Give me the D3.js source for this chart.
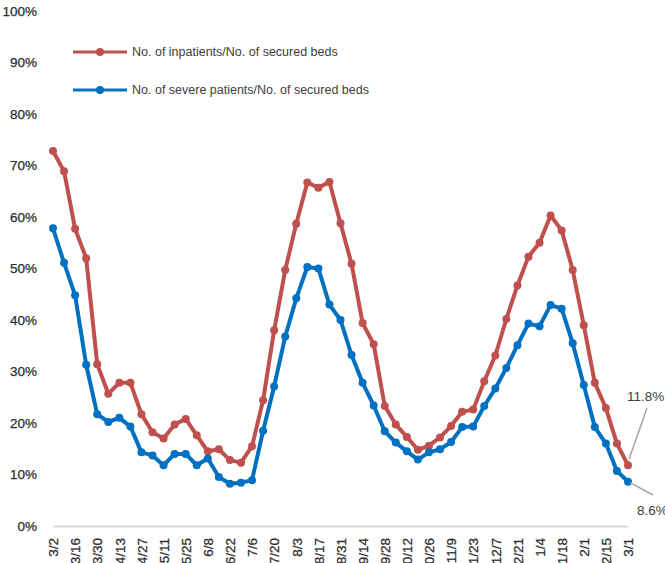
<!DOCTYPE html>
<html><head><meta charset="utf-8">
<script src="https://cdn.jsdelivr.net/npm/d3@7"></script>
<style>
html,body{margin:0;padding:0;background:#fff;overflow:hidden}
text{font-family:"Liberation Sans",Arial,sans-serif}
</style></head>
<body>
<svg id="chart" width="665" height="563"></svg>
<script>
const weeks = ["3/2","3/9","3/16","3/23","3/30","4/6","4/13","4/20","4/27","5/4","5/11","5/18","5/25","6/1","6/8","6/15","6/22","6/29","7/6","7/13","7/20","7/27","8/3","8/10","8/17","8/24","8/31","9/7","9/14","9/21","9/28","10/5","10/12","10/19","10/26","11/2","11/9","11/16","11/23","11/30","12/7","12/14","12/21","12/28","1/4","1/11","1/18","1/25","2/1","2/8","2/15","2/22","3/1"];
const tickLabels = ["3/2","3/16","3/30","4/13","4/27","5/11","5/25","6/8","6/22","7/6","7/20","8/3","8/17","8/31","9/14","9/28","10/12","10/26","11/9","11/23","12/7","12/21","1/4","1/18","2/1","2/15","3/1"];
const inpatients = [72.8,68.9,57.7,52.0,31.4,25.7,27.8,27.8,21.7,18.2,17.0,19.7,20.8,17.6,14.5,14.9,12.8,12.3,15.5,24.4,38.0,49.7,58.7,66.7,65.7,66.8,58.8,50.9,39.4,35.3,23.3,19.7,17.3,14.8,15.6,17.2,19.4,22.2,22.6,28.1,33.1,40.2,46.7,52.3,55.0,60.3,57.4,49.7,39.0,27.8,22.9,16.0,11.8];
const severe = [57.8,51.1,44.8,31.3,21.7,20.2,21.0,19.3,14.3,13.7,11.8,14.0,14.0,11.8,13.1,9.5,8.2,8.4,8.9,18.5,27.1,36.8,44.2,50.3,50.0,43.0,40.0,33.2,27.8,23.4,18.4,16.2,14.5,12.9,14.3,14.9,16.3,19.2,19.3,23.3,26.7,30.7,35.1,39.3,38.8,42.9,42.2,35.5,27.4,19.2,16.0,10.7,8.6];
const yTicks = [0,10,20,30,40,50,60,70,80,90,100];
const seriesNames = ["No. of inpatients/No. of secured beds","No. of severe patients/No. of secured beds"];
const colors = ["#C0504D","#0070C0"];

const tickFont = "Lato, Carlito, sans-serif";
const svg = d3.select("#chart");
const x = d3.scalePoint().domain(weeks).range([53,628]);
const y = d3.scaleLinear().domain([0,100]).range([526,11]);

// y labels
const yAxis = d3.axisLeft(y).tickValues(yTicks).tickFormat(d=>d+"%").tickSize(0).tickPadding(0);
const gy = svg.append("g").attr("transform","translate(37,0)").call(yAxis);
gy.select(".domain").remove();
gy.selectAll("text").attr("font-size",13.5).attr("fill","#2b2b2b").attr("font-family",tickFont)
  .attr("stroke","#2b2b2b").attr("stroke-width",0.25);

// x axis
const xAxis = d3.axisBottom(x).tickValues(tickLabels.map((t,i)=>weeks[i*2])).tickSize(0).tickFormat((d,i)=>tickLabels[i]);
const gx = svg.append("g").attr("transform","translate(0,526)").call(xAxis);
gx.select(".domain").attr("stroke","#d9d9d9").attr("stroke-width",2);
gx.selectAll("text").attr("font-size",13.5).attr("fill","#2b2b2b").attr("font-family",tickFont)
  .attr("stroke","#2b2b2b").attr("stroke-width",0.25)
  .attr("transform","rotate(-90)").attr("text-anchor","end").attr("x",-12).attr("y",0).attr("dy","0.35em");

// lines
[inpatients,severe].forEach((vals,k)=>{
  const line = d3.line().x((d,i)=>x(weeks[i])).y(d=>y(d));
  svg.append("path").datum(vals).attr("d",line).attr("fill","none").attr("stroke",colors[k]).attr("stroke-width",4).attr("stroke-linejoin","round");
  svg.append("g").selectAll("circle").data(vals).join("circle")
    .attr("cx",(d,i)=>x(weeks[i])).attr("cy",d=>y(d)).attr("r",4).attr("fill",colors[k]);
});

// annotations
const last = weeks.length-1;
const lx = x(weeks[last]);
svg.append("line").attr("x1",lx+1).attr("y1",y(inpatients[last])-6).attr("x2",647).attr("y2",408).attr("stroke","#a6a6a6").attr("stroke-width",1.5);
svg.append("text").attr("x",627).attr("y",401).attr("font-size",13.5).attr("font-family",tickFont).attr("fill","#404040").text(inpatients[last].toFixed(1)+"%");
svg.append("line").attr("x1",lx+2).attr("y1",y(severe[last])+1).attr("x2",653).attr("y2",495).attr("stroke","#a6a6a6").attr("stroke-width",1.5);
svg.append("text").attr("x",637).attr("y",515).attr("font-size",13.5).attr("font-family",tickFont).attr("fill","#404040").text(severe[last].toFixed(1)+"%");

// legend
seriesNames.forEach((n,k)=>{
  const ly = 52 + k*38;
  svg.append("line").attr("x1",73).attr("x2",127).attr("y1",ly).attr("y2",ly).attr("stroke",colors[k]).attr("stroke-width",3);
  svg.append("circle").attr("cx",100).attr("cy",ly).attr("r",4).attr("fill",colors[k]);
  svg.append("text").attr("x",132).attr("y",ly).attr("dy","0.35em").attr("font-size",12.5).attr("fill","#404040").text(n);
});
</script>
</body></html>
